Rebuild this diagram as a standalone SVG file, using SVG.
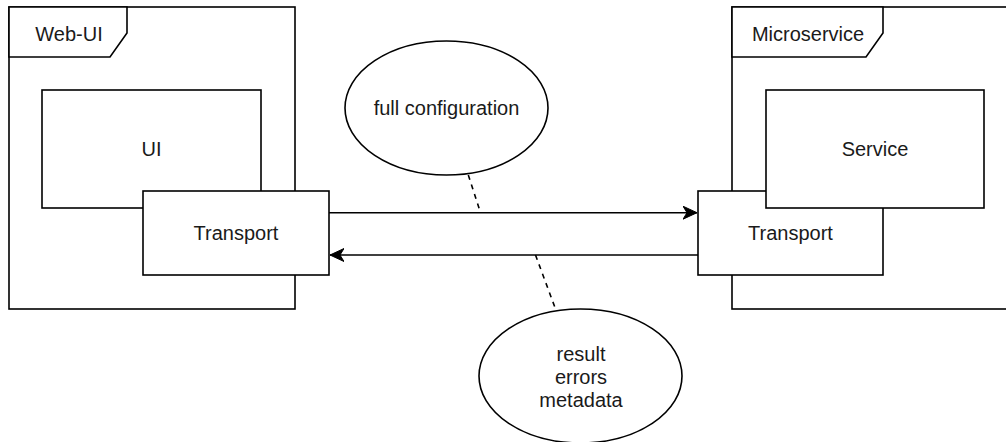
<svg xmlns="http://www.w3.org/2000/svg" width="1006" height="442" viewBox="0 0 1006 442">
  <style>
    .shape { fill: #ffffff; stroke: #000000; stroke-width: 1.6; }
    .label { font-family: "Liberation Sans", Arial, Helvetica, sans-serif; font-size: 20px; fill: #1a1a1a; text-anchor: middle; }
    .flow { fill: none; stroke: #000000; stroke-width: 1.6; }
    .note-link { fill: none; stroke: #000000; stroke-width: 1.6; stroke-dasharray: 5 5; }
  </style>
  <defs>
    <marker id="classic" markerUnits="userSpaceOnUse" markerWidth="16" markerHeight="14" viewBox="-14 -7 16 14" refX="0" refY="0" orient="auto">
      <path d="M0,0 L-14,-6.5 L-10,0 L-14,6.5 Z" fill="#000000" stroke="#000000" stroke-width="1"/>
    </marker>
  </defs>
  <rect width="1006" height="442" fill="#ffffff"/>

  <!-- Web-UI package -->
  <g id="web-ui">
    <rect class="shape" x="9" y="7" width="286" height="302"/>
    <path class="shape" d="M9,7 L127,7 L127,33 L110,57 L9,57 Z"/>
    <text class="label" x="69" y="41">Web-UI</text>
  </g>
  <g id="ui">
    <rect class="shape" x="42" y="90" width="219" height="118"/>
    <text class="label" x="151.5" y="156">UI</text>
  </g>
  <g id="web-transport">
    <rect class="shape" x="143" y="191" width="186" height="84"/>
    <text class="label" x="236" y="240">Transport</text>
  </g>

  <!-- Microservice package -->
  <g id="microservice">
    <rect class="shape" x="732" y="7" width="286" height="302"/>
    <path class="shape" d="M732,7 L883,7 L883,33 L866,57 L732,57 Z"/>
    <text class="label" x="808" y="41">Microservice</text>
  </g>
  <g id="service-transport">
    <rect class="shape" x="698" y="191" width="185" height="84"/>
    <text class="label" x="790.5" y="240">Transport</text>
  </g>
  <g id="service">
    <rect class="shape" x="766" y="90" width="218" height="118"/>
    <text class="label" x="875" y="156">Service</text>
  </g>

  <!-- Payload notes -->
  <g id="request-note">
    <ellipse class="shape" cx="446.5" cy="108" rx="101.5" ry="67"/>
    <text class="label" x="446.5" y="115">full configuration</text>
  </g>
  <g id="response-note">
    <ellipse class="shape" cx="580.5" cy="376" rx="101.5" ry="67"/>
    <text class="label" x="581" y="360.5">result</text>
    <text class="label" x="581" y="383.5">errors</text>
    <text class="label" x="581" y="406.5">metadata</text>
  </g>

  <!-- Connectors -->
  <g id="connectors">
    <line class="flow" x1="329" y1="212.7" x2="697" y2="212.7" marker-end="url(#classic)"/>
    <line class="flow" x1="698" y1="255" x2="330" y2="255" marker-end="url(#classic)"/>
    <line class="note-link" x1="468.3" y1="175" x2="480.5" y2="212.7"/>
    <line class="note-link" x1="535.5" y1="255" x2="555.7" y2="309.5"/>
  </g>
</svg>
